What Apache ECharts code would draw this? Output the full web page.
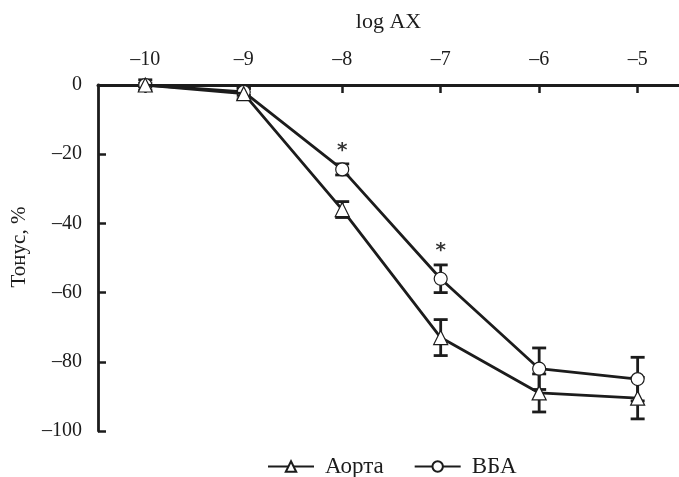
<!DOCTYPE html>
<html><head><meta charset="utf-8">
<script src="https://cdn.jsdelivr.net/npm/echarts@6/dist/echarts.min.js"></script>
<style>html,body{margin:0;padding:0;background:#fff}#c{width:679px;height:477px}</style>
</head><body><div id="c"></div>
<script>
var logConc = [-10, -9, -8, -7, -6, -5];
var xTicks = [-10, -9, -8, -7, -6, -5];
var yTicks = [0, -20, -40, -60, -80, -100];
var aortaMean = [0, -2.5, -36, -73, -89, -90.5];
var aortaErr = [1.5, 1.5, 2.3, 5.2, 5.5, 6];
var vbaMean = [0, -2, -24.4, -56, -82, -85];
var vbaErr = [0.5, 1, 1.6, 4, 6, 6.3];
var starX = [-8, -7];
var starY = [-19, -48];
var seriesNames = ['Аорта', 'ВБА'];

var FONT = '"Liberation Serif", "DejaVu Serif", serif';
var INK = '#1c1c1c';

function errData(mean, err) {
  return logConc.map(function (x, i) { return [x, mean[i] - err[i], mean[i] + err[i]]; });
}
function errRender(params, api) {
  var x = api.value(0), lo = api.value(1), hi = api.value(2);
  var pLo = api.coord([x, lo]), pHi = api.coord([x, hi]);
  var w = 7;
  var st = { stroke: INK, lineWidth: 2.8 };
  return { type: 'group', children: [
    { type: 'line', shape: { x1: pLo[0], y1: pLo[1], x2: pHi[0], y2: pHi[1] }, style: st },
    { type: 'line', shape: { x1: pLo[0] - w, y1: pLo[1], x2: pLo[0] + w, y2: pLo[1] }, style: st },
    { type: 'line', shape: { x1: pHi[0] - w, y1: pHi[1], x2: pHi[0] + w, y2: pHi[1] }, style: st }
  ]};
}
function minus(v) { return String(v).replace('-', '\u2013'); }

var chart = echarts.init(document.getElementById('c'));
chart.setOption({
  animation: false,
  backgroundColor: '#fff',
  textStyle: { fontFamily: FONT, color: INK },
  grid: { left: 98, right: 0, top: 85, bottom: 46, containLabel: false, outerBoundsMode: 'none' },
  legend: {
    data: seriesNames.map(function (n) { return { name: n }; }),
    left: 262, top: 450, itemWidth: 46, itemHeight: 13, itemGap: 30,
    textStyle: { fontFamily: FONT, fontSize: 23, color: INK, padding: [0, 0, 0, 6] }
  },
  xAxis: {
    type: 'value', position: 'top', min: -10.48, max: -4.58,
    name: 'log AX', nameLocation: 'middle', nameGap: 52,
    nameTextStyle: { fontFamily: FONT, fontSize: 22, color: INK },
    axisLine: { show: true, onZero: false, lineStyle: { color: INK, width: 3 } },
    axisTick: { show: true, inside: true, length: 8, customValues: xTicks, lineStyle: { color: INK, width: 2.5 } },
    axisLabel: { customValues: xTicks, margin: 15, fontFamily: FONT, fontSize: 20, color: INK, formatter: minus },
    splitLine: { show: false }
  },
  yAxis: {
    type: 'value', min: -100, max: 0, interval: 20,
    name: 'Тонус, %', nameLocation: 'middle', nameGap: 68, nameRotate: 90,
    nameTextStyle: { fontFamily: FONT, fontSize: 21, color: INK, padding: [0, 0, 0, 22] },
    axisLine: { show: true, onZero: false, lineStyle: { color: INK, width: 2.8 } },
    axisTick: { show: true, inside: true, length: 8, lineStyle: { color: INK, width: 2.5 } },
    axisLabel: { margin: 16, fontFamily: FONT, fontSize: 20, color: INK, formatter: minus },
    splitLine: { show: false }
  },
  series: [
    { type: 'custom', name: 'errA', renderItem: errRender, data: errData(aortaMean, aortaErr), z: 2, silent: true },
    { type: 'custom', name: 'errV', renderItem: errRender, data: errData(vbaMean, vbaErr), z: 2, silent: true },
    {
      type: 'line', name: seriesNames[0], z: 4,
      data: logConc.map(function (x, i) { return [x, aortaMean[i]]; }),
      symbol: 'triangle', symbolSize: 14, showAllSymbol: true,
      lineStyle: { color: INK, width: 2.8 },
      itemStyle: { color: '#fff', borderColor: INK, borderWidth: 1.2 }
    },
    {
      type: 'line', name: seriesNames[1], z: 3,
      data: logConc.map(function (x, i) { return [x, vbaMean[i]]; }),
      symbol: 'circle', symbolSize: 13, showAllSymbol: true,
      lineStyle: { color: INK, width: 2.8 },
      itemStyle: { color: '#fff', borderColor: INK, borderWidth: 1.2 }
    },
    {
      type: 'scatter', name: 'stars', symbolSize: 0, silent: true,
      data: starX.map(function (x, i) { return [x, starY[i]]; }),
      label: { show: true, position: 'inside', formatter: '*', fontFamily: '"DejaVu Sans", sans-serif', fontSize: 20, fontWeight: 'bold', color: '#000' }
    }
  ]
});
</script>
</body></html>
